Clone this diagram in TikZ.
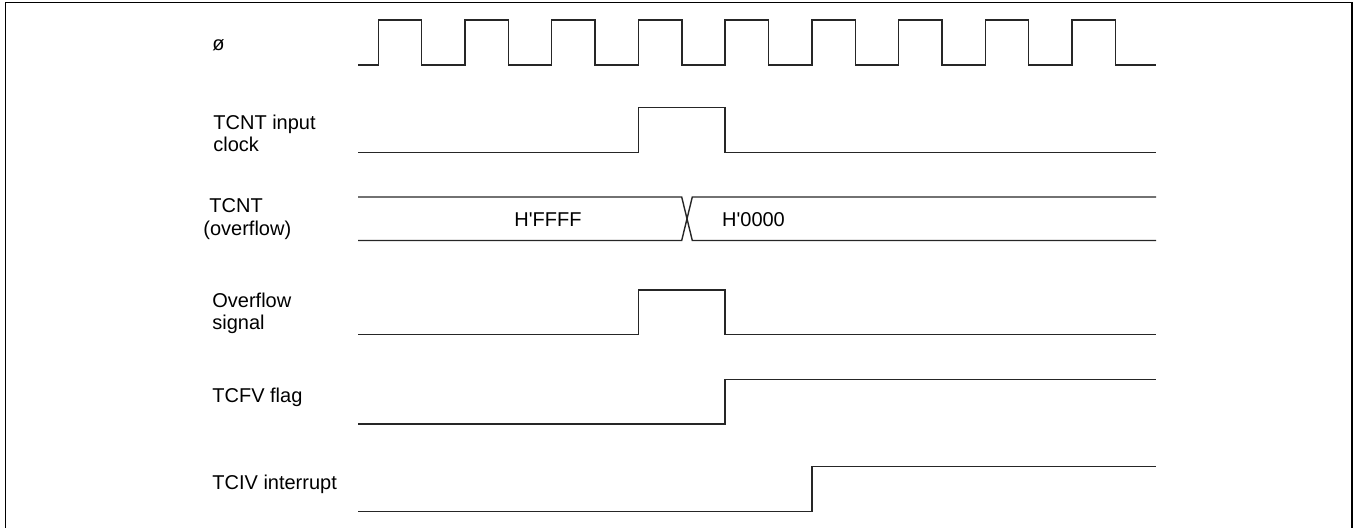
\documentclass[tikz,border=0pt]{standalone}
\usepackage{fontspec}
\newfontfamily\labelfont{Liberation Sans}
\begin{document}
\begin{tikzpicture}[x=0.5pt,y=-0.5pt,
  wave/.style={line width=0.7pt, black!85, line join=miter},
  frame/.style={line width=0.75pt, black},
  lbl/.style={anchor=base west, inner sep=0pt, font=\labelfont\fontsize{10pt}{11pt}\selectfont},
  val/.style={anchor=base, inner sep=0pt, font=\labelfont\fontsize{10pt}{11pt}\selectfont}]
\useasboundingbox (0,0) rectangle (1356,528);
% frame (open at the bottom)
\draw[frame] (5.5,528) -- (5.5,2.5) -- (1352,2.5) -- (1352,528);
% labels
\node[lbl] (phi) at (212,51) {ø};
\node[lbl] (in1) at (213,130) {TCNT input};
\node[lbl] (in2) at (213,152) {clock};
\node[lbl] (cnt1) at (209,213) {TCNT};
\node[lbl] (cnt2) at (203,235.5) {(overflow)};
\node[lbl] (ovf1) at (212,308) {Overflow};
\node[lbl] (ovf2) at (212,330) {signal};
\node[lbl] (flag) at (212,403) {TCFV flag};
\node[lbl] (irq) at (212,490) {TCIV interrupt};
% system clock
\draw[wave] (358,65) foreach \k in {0,...,8} {
   -- ({378.3+86.7*\k},65) -- ({378.3+86.7*\k},20)
   -- ({421.7+86.7*\k},20) -- ({421.7+86.7*\k},65) } -- (1156,65);
% TCNT input clock
\draw[wave] (358,152.3) -- (638.4,152.3) -- (638.4,107.7) -- (725,107.7) -- (725,152.3) -- (1156,152.3);
% TCNT bus
\draw[wave] (358,197) -- (681.7,197) -- (692.3,240.5) -- (1156,240.5);
\draw[wave] (358,240.5) -- (681.7,240.5) -- (692.3,197) -- (1156,197);
\node[val] (ffff) at (548,227) {H'FFFF};
\node[val] (zero) at (753.5,227) {H'0000};
% overflow signal
\draw[wave] (358,334.5) -- (638.4,334.5) -- (638.4,290) -- (725,290) -- (725,334.5) -- (1156,334.5);
% TCFV flag
\draw[wave] (358,424) -- (725,424) -- (725,379.3) -- (1156,379.3);
% TCIV interrupt
\draw[wave] (358,511.5) -- (811.8,511.5) -- (811.8,466.7) -- (1156,466.7);
\end{tikzpicture}
\end{document}
